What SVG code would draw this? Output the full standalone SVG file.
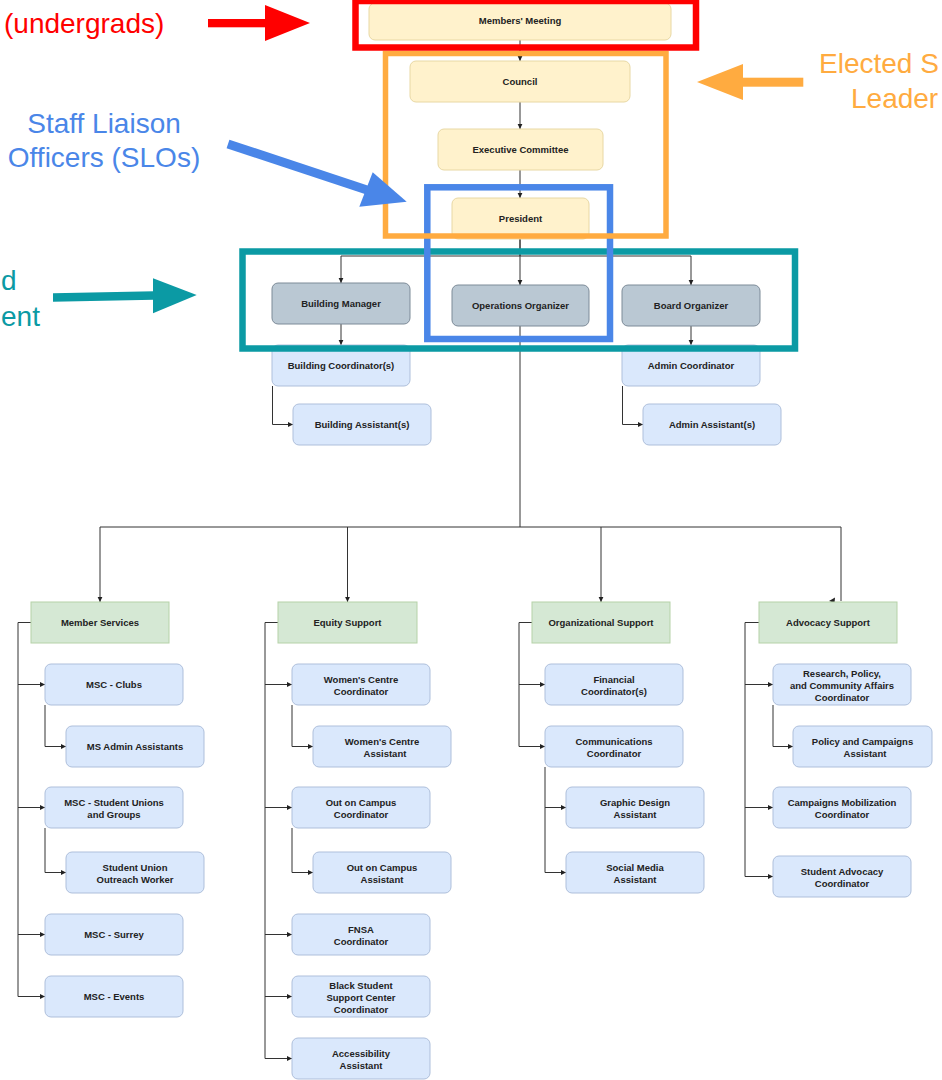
<svg xmlns="http://www.w3.org/2000/svg" width="942" height="1080" viewBox="0 0 942 1080">
<defs>
<style>
.n text{font-family:"Liberation Sans",Arial,sans-serif;font-weight:bold;font-size:9.5px;fill:#222;text-anchor:middle}
.y rect{fill:#fff2cc;stroke:#e8d8a4;stroke-width:1}
.g rect{fill:#bac8d3;stroke:#7d8b98;stroke-width:1}
.b rect{fill:#dae8fc;stroke:#aebfdb;stroke-width:1}
.gr rect{fill:#d5e8d4;stroke:#b5d2a8;stroke-width:1}
#connectors path{fill:none;stroke:#333;stroke-width:1;marker-end:url(#ah)}
.ann{font-family:"Liberation Sans",Arial,sans-serif;font-size:28px}
</style>
<marker id="ah" markerWidth="6" markerHeight="6" refX="5" refY="3" orient="auto" markerUnits="userSpaceOnUse">
<path d="M0,0.6 L5,3 L0,5.4 Z" fill="#222"/>
</marker>
</defs>
<rect width="942" height="1080" fill="#fff"/>

<g id="connectors">
<path d="M520,40 V61"/>
<path d="M520,102 V129"/>
<path d="M520,170 V198"/>
<path d="M520,239 V256 H341 V283"/>
<path d="M520,239 V285"/>
<path d="M520,256 H691 V285"/>
<path d="M341,324 V345"/>
<path d="M691,326 V345"/>
<path d="M272.5,386 V424.5 H293"/>
<path d="M622.5,386 V424.5 H643"/>
<path d="M520,326 V527 H100 V602"/>
<path d="M347.5,527 V602"/>
<path d="M520,527 H601 V602"/>
<path d="M601,527 H841 V601" style="marker-end:none"/>
<path d="M31,622.5 H18 V996.5 H45"/>
<path d="M18,684.5 H45"/>
<path d="M18,807.5 H45"/>
<path d="M18,934.5 H45"/>
<path d="M45,705 V746.5 H66"/>
<path d="M45,828 V872.5 H66"/>
<path d="M278,622.5 H265 V1058.5 H292"/>
<path d="M265,684.5 H292"/>
<path d="M265,807.5 H292"/>
<path d="M265,934.5 H292"/>
<path d="M265,996.5 H292"/>
<path d="M292,705 V746.5 H313"/>
<path d="M292,828 V872.5 H313"/>
<path d="M532,622.5 H519 V746.5 H545"/>
<path d="M519,684.5 H545"/>
<path d="M545,767 V872.5 H566"/>
<path d="M545,807.5 H566"/>
<path d="M759,622.5 H745 V876.5 H773"/>
<path d="M745,684.5 H773"/>
<path d="M745,807.5 H773"/>
<path d="M773,705 V746.5 H793"/>
</g>
<polygon points="829,601 835,597.5 834.5,603" fill="#222"/>

<g id="nodes">
<g id="members-meeting" class="n y"><rect x="369" y="3" width="302" height="37" rx="6"/><text x="520" y="24">Members' Meeting</text></g>
<g id="council" class="n y"><rect x="410" y="61" width="220" height="41" rx="6"/><text x="520" y="85.3">Council</text></g>
<g id="executive-committee" class="n y"><rect x="438" y="129" width="165" height="41" rx="6"/><text x="520.5" y="153.3">Executive Committee</text></g>
<g id="president" class="n y"><rect x="452" y="198" width="137" height="41" rx="6"/><text x="520.5" y="222.3">President</text></g>

<g id="building-manager" class="n g"><rect x="272" y="283" width="138" height="41" rx="6"/><text x="341" y="307.3">Building Manager</text></g>
<g id="operations-organizer" class="n g"><rect x="452" y="285" width="137" height="41" rx="6"/><text x="520.5" y="309.3">Operations Organizer</text></g>
<g id="board-organizer" class="n g"><rect x="622" y="285" width="138" height="41" rx="6"/><text x="691" y="309.3">Board Organizer</text></g>

<g id="building-coordinators" class="n b"><rect x="272" y="345" width="138" height="41" rx="6"/><text x="341" y="369.3">Building Coordinator(s)</text></g>
<g id="admin-coordinator" class="n b"><rect x="622" y="345" width="138" height="41" rx="6"/><text x="691" y="369.3">Admin Coordinator</text></g>
<g id="building-assistants" class="n b"><rect x="293" y="404" width="138" height="41" rx="6"/><text x="362" y="428.3">Building Assistant(s)</text></g>
<g id="admin-assistants" class="n b"><rect x="643" y="404" width="138" height="41" rx="6"/><text x="712" y="428.3">Admin Assistant(s)</text></g>

<g id="member-services" class="n gr"><rect x="31" y="602" width="138" height="41"/><text x="100" y="626.3">Member Services</text></g>
<g id="equity-support" class="n gr"><rect x="278" y="602" width="139" height="41"/><text x="347.5" y="626.3">Equity Support</text></g>
<g id="organizational-support" class="n gr"><rect x="532" y="602" width="138" height="41"/><text x="601" y="626.3">Organizational Support</text></g>
<g id="advocacy-support" class="n gr"><rect x="759" y="602" width="138" height="41"/><text x="828" y="626.3">Advocacy Support</text></g>

<g id="msc-clubs" class="n b"><rect x="45" y="664" width="138" height="41" rx="6"/><text x="114" y="688.3">MSC - Clubs</text></g>
<g id="ms-admin-assistants" class="n b"><rect x="66" y="726" width="138" height="41" rx="6"/><text x="135" y="750.3">MS Admin Assistants</text></g>
<g id="msc-student-unions" class="n b"><rect x="45" y="787" width="138" height="41" rx="6"/><text x="114" y="806.2">MSC - Student Unions</text><text x="114" y="817.8">and Groups</text></g>
<g id="student-union-outreach" class="n b"><rect x="66" y="852" width="138" height="41" rx="6"/><text x="135" y="871.2">Student Union</text><text x="135" y="882.8">Outreach Worker</text></g>
<g id="msc-surrey" class="n b"><rect x="45" y="914" width="138" height="41" rx="6"/><text x="114" y="938.3">MSC - Surrey</text></g>
<g id="msc-events" class="n b"><rect x="45" y="976" width="138" height="41" rx="6"/><text x="114" y="1000.3">MSC - Events</text></g>

<g id="womens-centre-coordinator" class="n b"><rect x="292" y="664" width="138" height="41" rx="6"/><text x="361" y="683.2">Women's Centre</text><text x="361" y="694.8">Coordinator</text></g>
<g id="womens-centre-assistant" class="n b"><rect x="313" y="726" width="138" height="41" rx="6"/><text x="382" y="745.2">Women's Centre</text><text x="385" y="756.8">Assistant</text></g>
<g id="out-on-campus-coordinator" class="n b"><rect x="292" y="787" width="138" height="41" rx="6"/><text x="361" y="806.2">Out on Campus</text><text x="361" y="817.8">Coordinator</text></g>
<g id="out-on-campus-assistant" class="n b"><rect x="313" y="852" width="138" height="41" rx="6"/><text x="382" y="871.2">Out on Campus</text><text x="382" y="882.8">Assistant</text></g>
<g id="fnsa-coordinator" class="n b"><rect x="292" y="914" width="138" height="41" rx="6"/><text x="361" y="933.2">FNSA</text><text x="361" y="944.8">Coordinator</text></g>
<g id="black-student-support" class="n b"><rect x="292" y="976" width="138" height="41" rx="6"/><text x="361" y="989.4">Black Student</text><text x="361" y="1001.1">Support Center</text><text x="361" y="1012.8">Coordinator</text></g>
<g id="accessibility-assistant" class="n b"><rect x="292" y="1038" width="138" height="41" rx="6"/><text x="361" y="1057.2">Accessibility</text><text x="361" y="1068.8">Assistant</text></g>

<g id="financial-coordinator" class="n b"><rect x="545" y="664" width="138" height="41" rx="6"/><text x="614" y="683.2">Financial</text><text x="614" y="694.8">Coordinator(s)</text></g>
<g id="communications-coordinator" class="n b"><rect x="545" y="726" width="138" height="41" rx="6"/><text x="614" y="745.2">Communications</text><text x="614" y="756.8">Coordinator</text></g>
<g id="graphic-design-assistant" class="n b"><rect x="566" y="787" width="138" height="41" rx="6"/><text x="635" y="806.2">Graphic Design</text><text x="635" y="817.8">Assistant</text></g>
<g id="social-media-assistant" class="n b"><rect x="566" y="852" width="138" height="41" rx="6"/><text x="635" y="871.2">Social Media</text><text x="635" y="882.8">Assistant</text></g>

<g id="research-policy-coordinator" class="n b"><rect x="773" y="664" width="138" height="41" rx="6"/><text x="842" y="677.4">Research, Policy,</text><text x="842" y="689">and Community Affairs</text><text x="842" y="700.6">Coordinator</text></g>
<g id="policy-campaigns-assistant" class="n b"><rect x="793" y="726" width="139" height="41" rx="6"/><text x="862.5" y="745.2">Policy and Campaigns</text><text x="865" y="756.8">Assistant</text></g>
<g id="campaigns-mobilization" class="n b"><rect x="773" y="787" width="138" height="41" rx="6"/><text x="842" y="806.2">Campaigns Mobilization</text><text x="842" y="817.8">Coordinator</text></g>
<g id="student-advocacy" class="n b"><rect x="773" y="856" width="138" height="41" rx="6"/><text x="842" y="875.2">Student Advocacy</text><text x="842" y="886.8">Coordinator</text></g>
</g>

<g id="annotations">
<rect x="242.5" y="251.5" width="552.5" height="97" fill="none" stroke="#0b9aa4" stroke-width="6.5"/>
<rect x="427.3" y="187.3" width="182.7" height="151.7" fill="none" stroke="#4a86e8" stroke-width="6.5"/>
<rect x="385.5" y="53.5" width="280.5" height="182.5" fill="none" stroke="#ffab40" stroke-width="5.5"/>
<rect x="355.5" y="1" width="340.5" height="46.5" fill="none" stroke="#ff0000" stroke-width="6.5"/>

<text class="ann" x="4" y="33" fill="#ff0000">(undergrads)</text>
<rect x="208" y="19" width="58" height="8.3" fill="#ff0000"/>
<polygon points="265,5 310,23 265,41" fill="#ff0000"/>

<text class="ann" x="104" y="133" fill="#4a86e8" text-anchor="middle">Staff Liaison</text>
<text class="ann" x="104" y="167" fill="#4a86e8" text-anchor="middle">Officers (SLOs)</text>
<line x1="228" y1="144" x2="367" y2="190" stroke="#4a86e8" stroke-width="9"/>
<polygon points="359.3,206.7 372.7,172.3 406.7,201.7" fill="#4a86e8"/>

<text class="ann" x="819" y="73" fill="#ffab40">Elected S</text>
<text class="ann" x="851" y="108" fill="#ffab40">Leader</text>
<rect x="742" y="77.7" width="61.3" height="9" fill="#ffab40"/>
<polygon points="697,82 743,64 743,100" fill="#ffab40"/>

<text class="ann" x="1" y="290" fill="#0b9aa4">d</text>
<text class="ann" x="1" y="326" fill="#0b9aa4">ent</text>
<polygon points="53,293.3 154,291.3 154,299.7 53,301.7" fill="#0b9aa4"/>
<polygon points="153,278.3 196.7,295 153,313.3" fill="#0b9aa4"/>
</g>
</svg>
